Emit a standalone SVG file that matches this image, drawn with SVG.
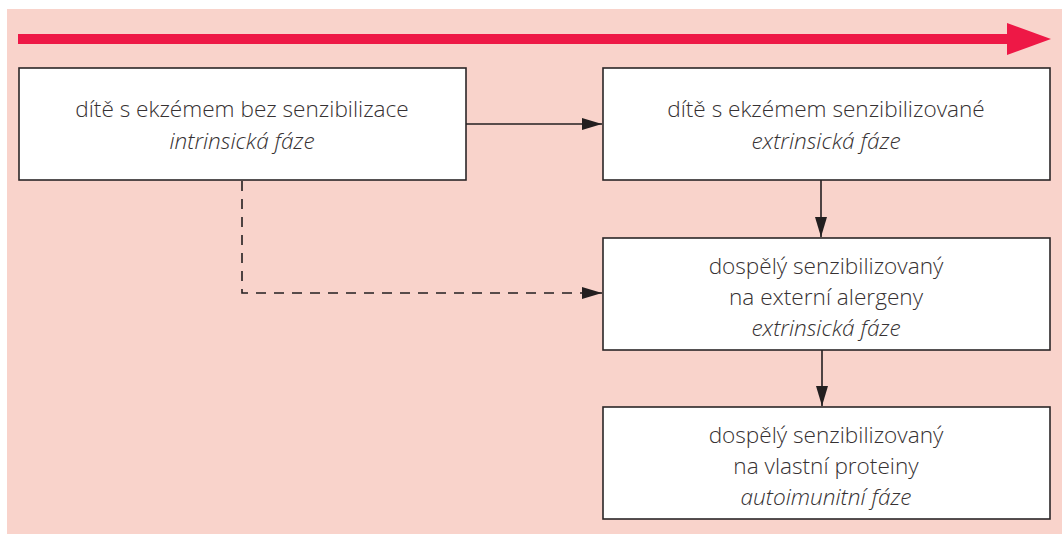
<svg xmlns="http://www.w3.org/2000/svg" width="1062" height="534" viewBox="0 0 1062 534">
<defs>
<style>
.box{fill:#fff;stroke:#2b2627;stroke-width:1.6}
.t{font-family:"Open Sans","Noto Sans","Liberation Sans",sans-serif;font-size:22.6px;fill:#363132;text-anchor:middle;font-weight:300}
.i{font-style:italic}
.c{stroke:#231f20;stroke-width:1.6;fill:none}
</style>
<marker id="ah" viewBox="0 0 20 12" refX="20" refY="6" markerWidth="20" markerHeight="12" markerUnits="userSpaceOnUse" orient="auto"><path d="M0,0L20,6L0,12Z" fill="#231f20"/></marker>
</defs>
<rect x="0" y="0" width="1062" height="534" fill="#fff"/>
<rect x="7" y="9" width="1055" height="525" fill="#f9d3cb"/>
<g id="timeline">
<rect x="18" y="34" width="992" height="10" fill="#ee1846"/>
<polygon points="1007,23 1051,39 1007,55" fill="#ee1846"/>
</g>
<g id="connectors">
<line class="c" x1="466" y1="124" x2="602" y2="124" marker-end="url(#ah)"/>
<line class="c" x1="821" y1="180" x2="821" y2="237" marker-end="url(#ah)"/>
<line class="c" x1="822" y1="350" x2="822" y2="406" marker-end="url(#ah)"/>
<path class="c" d="M242,181V293H602" stroke-dasharray="10 8" marker-end="url(#ah)"/>
</g>
<g id="n1">
<rect class="box" x="19" y="68" width="447" height="112"/>
<text class="t" x="242" y="117">dítě s ekzémem bez senzibilizace</text>
<text class="t i" x="242" y="149">intrinsická fáze</text>
</g>
<g id="n2">
<rect class="box" x="603" y="68" width="447" height="112"/>
<text class="t" x="826" y="117">dítě s ekzémem senzibilizované</text>
<text class="t i" x="826" y="149">extrinsická fáze</text>
</g>
<g id="n3">
<rect class="box" x="603" y="238" width="447" height="112"/>
<text class="t" x="826" y="274">dospělý senzibilizovaný</text>
<text class="t" x="826" y="305">na externí alergeny</text>
<text class="t i" x="826" y="336">extrinsická fáze</text>
</g>
<g id="n4">
<rect class="box" x="603" y="407" width="447" height="112"/>
<text class="t" x="826" y="443">dospělý senzibilizovaný</text>
<text class="t" x="826" y="474">na vlastní proteiny</text>
<text class="t i" x="826" y="505">autoimunitní fáze</text>
</g>
</svg>
